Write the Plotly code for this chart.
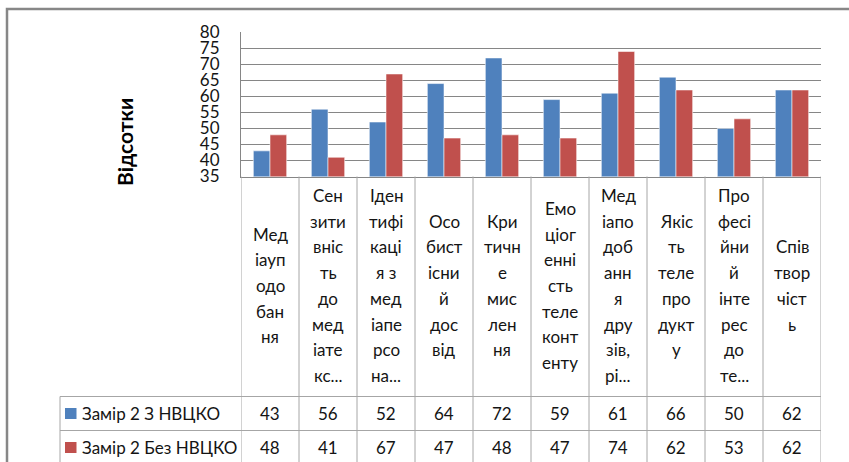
import plotly.graph_objects as go

# Series and category data
categories = [
    "Мед\nіауп\nодо\nбан\nня",
    "Сен\nзити\nвніс\nть\nдо\nмед\nіате\nкс...",
    "Іден\nтифі\nкаці\nя з\nмед\nіапе\nрсо\nна...",
    "Осо\nбист\nісни\nй\nдос\nвід",
    "Кри\nтичн\nе\nмис\nлен\nня",
    "Емо\nціог\nенні\nсть\nтеле\nконт\nенту",
    "Мед\nіапо\nдоб\nанн\nя\nдру\nзів,\nрі...",
    "Якіс\nть\nтеле\nпро\nдукт\nу",
    "Про\nфесі\nйни\nй\nінте\nрес\nдо\nте...",
    "Спів\nтвор\nчіст\nь",
]
series_names = ["Замір 2 З НВЦКО", "Замір 2 Без НВЦКО"]
with_nvcko = [43, 56, 52, 64, 72, 59, 61, 66, 50, 62]
without_nvcko = [48, 41, 67, 47, 48, 47, 74, 62, 53, 62]
y_title = "Відсотки"

W, H = 849, 462
FONT = "Lato, 'Open Sans', sans-serif"
FS = 17
BLUE, RED = "#4F81BD", "#C0504D"
GRID = "#868686"
TABLE = "#a6a6a6"
TXT = "#141414"


def px(x):
    return x / W


def py(y):
    return 1 - y / H


n = len(categories)
xs = list(range(n))

fig = go.Figure()
for name, vals, col in [(series_names[0], with_nvcko, BLUE),
                        (series_names[1], without_nvcko, RED)]:
    fig.add_bar(x=xs, y=vals, name=name, marker_color=col,
                marker_line=dict(color="rgba(255,255,255,0.55)", width=1),
                showlegend=False)

shapes = []
annotations = []

# chart area frame
shapes.append(dict(type="rect", xref="paper", yref="paper",
                   x0=px(7), x1=1.02, y0=-0.05, y1=py(9),
                   line=dict(color="#878787", width=2.5)))

# data table grid
bottom = 470
row1_top, row2_top = 396.5, 430.5
for yy in (row1_top, row2_top):
    shapes.append(dict(type="line", xref="paper", yref="paper",
                       x0=px(60), x1=px(821), y0=py(yy), y1=py(yy),
                       line=dict(color=TABLE, width=1)))
shapes.append(dict(type="line", xref="paper", yref="paper",
                   x0=px(60), x1=px(60), y0=py(row1_top), y1=py(bottom),
                   line=dict(color=TABLE, width=1)))
for i in range(n + 1):
    shapes.append(dict(type="line", xref="x", yref="paper",
                       x0=i - 0.5, x1=i - 0.5, y0=py(176.5), y1=py(bottom),
                       line=dict(color=TABLE, width=1)))

# category header cells (wrapped text, vertically centred)
line_h = 25.7
center_y = 285.5
for i, cat in enumerate(categories):
    lines = cat.split("\n")
    top = center_y - (len(lines) - 1) * line_h / 2
    for k, ln in enumerate(lines):
        annotations.append(dict(xref="x", yref="paper", x=i, y=py(top + k * line_h),
                                text=ln, showarrow=False, xanchor="center", yanchor="middle",
                                font=dict(family=FONT, size=FS, color=TXT)))

# value rows with legend keys
for r, (name, vals, col) in enumerate([(series_names[0], with_nvcko, BLUE),
                                        (series_names[1], without_nvcko, RED)]):
    cy = 413.5 + r * 34
    shapes.append(dict(type="rect", xref="paper", yref="paper",
                       x0=px(65), x1=px(76.5), y0=py(cy + 5.5), y1=py(cy - 5.5),
                       fillcolor=col, line=dict(width=0)))
    annotations.append(dict(xref="paper", yref="paper", x=px(80), y=py(cy),
                            text=name, showarrow=False, xanchor="left", yanchor="middle",
                            font=dict(family=FONT, size=FS, color=TXT)))
    for i, v in enumerate(vals):
        annotations.append(dict(xref="x", yref="paper", x=i, y=py(cy),
                                text=str(v), showarrow=False, xanchor="center",
                                yanchor="middle",
                                font=dict(family=FONT, size=FS, color=TXT)))

# vertical axis title
annotations.append(dict(xref="paper", yref="paper", x=px(125), y=py(142),
                        text=f"<b>{y_title}</b>", textangle=-90, showarrow=False,
                        xanchor="center", yanchor="middle",
                        font=dict(family=FONT, size=21, color="#000000")))

fig.update_layout(
    template="none",
    width=W, height=H,
    margin=dict(l=0, r=0, t=0, b=0, pad=0),
    paper_bgcolor="white", plot_bgcolor="white",
    barmode="group", bargap=0.425, bargroupgap=0,
    xaxis=dict(domain=[px(241), px(821)], range=[-0.5, n - 0.5],
               showticklabels=False, ticks="", showgrid=False, zeroline=False,
               automargin=False,
               showline=True, linecolor=GRID, linewidth=1),
    yaxis=dict(domain=[py(176.5), py(32.3)], range=[35, 80], dtick=5,
               showgrid=True, gridcolor=GRID, gridwidth=1, zeroline=False,
               automargin=False,
               showline=True, linecolor=GRID, linewidth=1, ticks="",
               ticklabelstandoff=17,
               tickfont=dict(family=FONT, size=FS, color=TXT)),
    shapes=shapes,
    annotations=annotations,
)

fig.write_html("out.html")
